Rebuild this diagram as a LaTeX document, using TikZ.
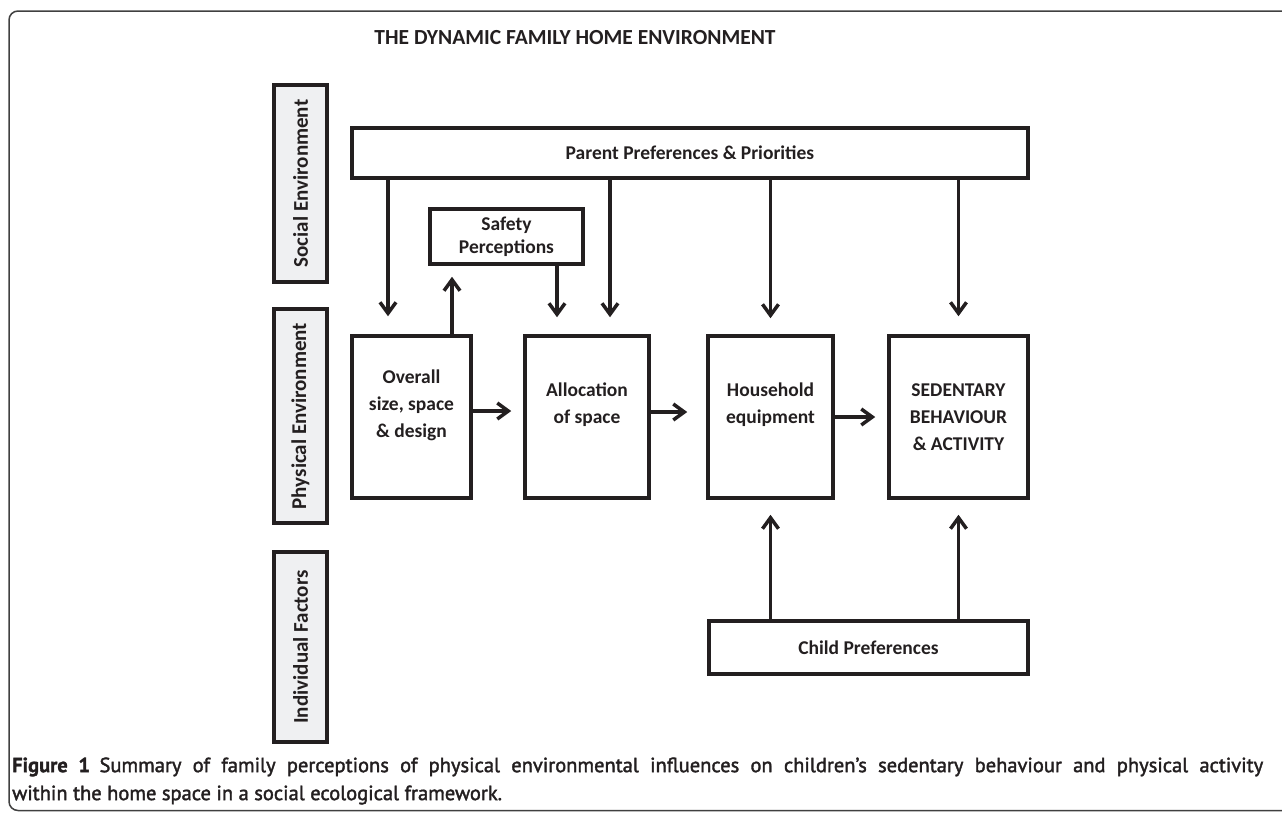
\documentclass[tikz,border=0pt]{standalone}
\usepackage{fontspec}
\setmainfont{Carlito}
\newfontfamily\capfont{PT Sans}[FakeBold=1.5]
\newfontfamily\capsemi{PT Sans}[FakeBold=1.8]
\usepackage{tikz}
\usetikzlibrary{arrows.meta}

\definecolor{inkline}{HTML}{231F20}
\definecolor{sidegray}{HTML}{EFF0F2}

\begin{document}
\begin{tikzpicture}[x=1pt,y=-1pt,color=inkline]
	\useasboundingbox (0,0) rectangle (1282,812);
	\draw[line width=1.5pt,draw=black!75,rounded corners=9pt] (1300,11) -- (9,11) -- (9,810.5) -- (1300,810.5);
	\node (title) at (575,38) {\fontsize{21.5}{26}\selectfont\bfseries THE DYNAMIC FAMILY HOME ENVIRONMENT};

	\begin{scope}[every node/.style={rotate=90,draw=inkline,fill=sidegray,line width=3.5pt,inner sep=0pt,minimum height=53pt,font=\fontsize{21}{25}\selectfont\bfseries}]
		\node[minimum width=197pt] (social) at (300.5,183.5) {Social Environment};
		\node[minimum width=214pt] (physical) at (300.5,416) {Physical Environment};
		\node[minimum width=190pt] (individual) at (300.5,647) {Individual Factors};
	\end{scope}

	\begin{scope}[every node/.style={draw=inkline,line width=3.5pt,inner sep=0pt,align=center,font=\fontsize{19.5}{27}\selectfont\bfseries}]
		\node[minimum width=676pt,minimum height=50pt] (parent) at (690,153) {Parent Preferences \& Priorities};
		\node[minimum width=153pt,minimum height=55pt] (safety) at (506.5,236.5) {\rule{0pt}{6pt}Safety\\[-4pt]Perceptions};
		\node[minimum width=119pt,minimum height=162pt] (overall) at (411.5,417) {Overall\\size, space\\\& design\\\mbox{}};
		\node[minimum width=124pt,minimum height=162pt] (alloc) at (587,417) {Allocation\\of space\\\mbox{}};
		\node[minimum width=125pt,minimum height=162pt] (household) at (770.5,417) {Household\\equipment\\\mbox{}};
		\node[minimum width=139pt,minimum height=162pt] (sedentary) at (958.5,417) {SEDENTARY\\BEHAVIOUR\\\& ACTIVITY};
		\node[minimum width=319pt,minimum height=53pt] (child) at (868.5,647.5) {Child Preferences};
	\end{scope}

	\begin{scope}[>={Straight Barb[length=11pt,width=16pt]},
	              every edge/.style={draw=inkline,line width=3.5pt,->}]
		\path ([xshift=-23.5pt]overall.north |- parent.south) edge[shorten >=18pt] ([xshift=-23.5pt]overall.north);
		\path ([xshift=23pt]alloc.north |- parent.south) edge[shorten >=17pt] ([xshift=23pt]alloc.north);
		\path (household.north |- parent.south) edge[shorten >=16pt] (household.north);
		\path (sedentary.north |- parent.south) edge[shorten >=18pt] (sedentary.north);
		\path ([xshift=40.5pt]overall.north) edge[shorten >=11pt] ([xshift=40.5pt]overall.north |- safety.south);
		\path ([xshift=50.5pt]safety.south) edge[shorten >=17pt] ([xshift=50.5pt]safety.south |- alloc.north);
		\path ([yshift=6pt]overall.east) edge[shorten >=12pt] ([yshift=6pt]overall.east -| alloc.west);
		\path ([yshift=5pt]alloc.east) edge[shorten >=19pt] ([yshift=5pt]alloc.east -| household.west);
		\path (household.east) edge[shorten >=12pt] (sedentary.west);
		\path (household.south |- child.north) edge[shorten >=15pt] (household.south);
		\path (sedentary.south |- child.north) edge[shorten >=15pt] (sedentary.south);
	\end{scope}

	\node[anchor=west,inner sep=0pt] (caption1) at (12,767) {\fontsize{20.5}{24}\selectfont\makebox[1251pt][s]{{\capfont\bfseries Figure 1} \capsemi Summary of family perceptions of physical environmental influences on children’s sedentary behaviour and physical activity}};
	\node[anchor=west,inner sep=0pt] (caption2) at (12,795) {\fontsize{20.5}{24}\selectfont\capsemi within the home space in a social ecological framework.};
\end{tikzpicture}
\end{document}
